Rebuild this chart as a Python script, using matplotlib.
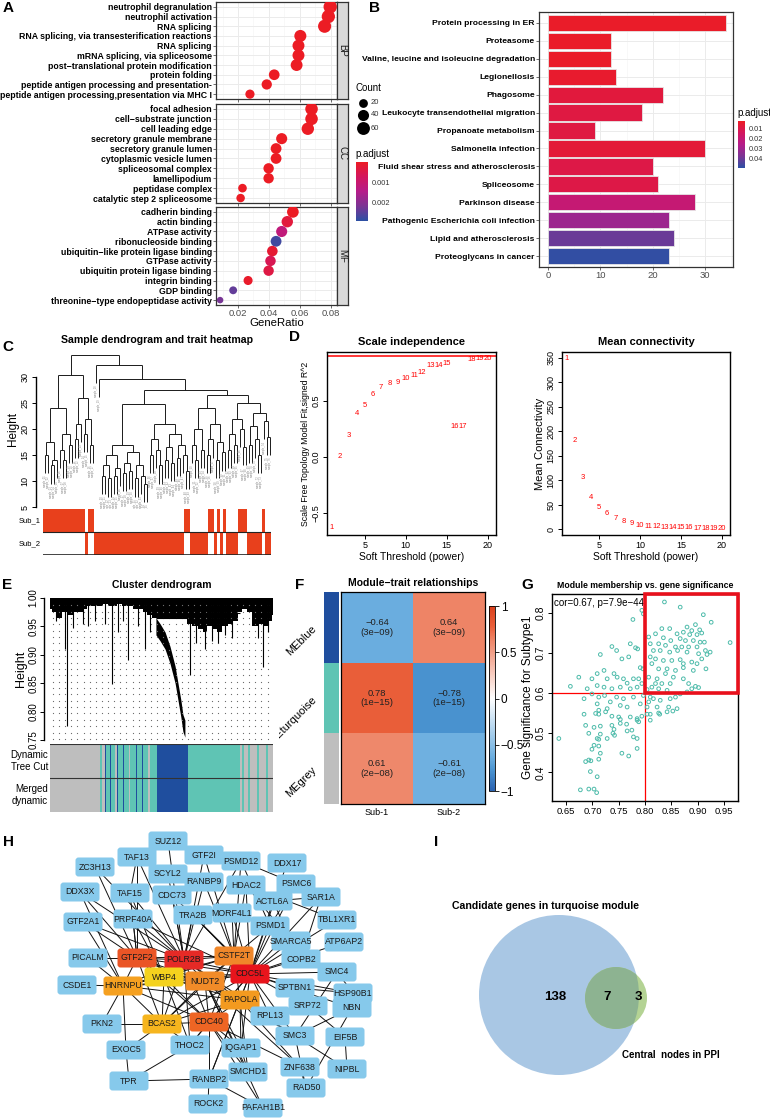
import numpy as np
import matplotlib.pyplot as plt
from matplotlib.colors import LinearSegmentedColormap, ListedColormap, Normalize
from matplotlib.cm import ScalarMappable
from matplotlib.patches import FancyBboxPatch, Circle, Rectangle

plt.rcParams['font.family'] = ['Liberation Sans', 'DejaVu Sans']

# ---------------- data ----------------
# A: GO enrichment (count per term, p.adjust); GeneRatio = count / n_genes
n_genes = 830
bp_terms = ["neutrophil degranulation", "neutrophil activation", "RNA splicing",
            "RNA splicing, via transesterification reactions", "RNA splicing",
            "mRNA splicing, via spliceosome", "post\u2212translational protein modification",
            "protein folding", "peptide antigen processing and presentation-",
            "peptide antigen processing,presentation via MHC I"]
bp_count = [66, 65, 63, 50, 49, 49, 48, 36, 32, 23]
bp_padj = [1e-6, 1e-6, 1e-6, 1e-6, 1e-6, 1e-6, 2e-6, 1e-5, 1e-5, 2e-5]
cc_terms = ["focal adhesion", "cell\u2212substrate junction", "cell leading edge",
            "secretory granule membrane", "secretory granule lumen", "cytoplasmic vesicle lumen",
            "spliceosomal complex", "lamellipodium", "peptidase complex",
            "catalytic step 2 spliceosome"]
cc_count = [56, 56, 54, 40, 37, 37, 33, 33, 19, 18]
cc_padj = [1e-6, 1e-6, 1e-6, 2e-6, 2e-6, 2e-6, 5e-6, 5e-6, 2e-5, 2e-5]
mf_terms = ["cadherin binding", "actin binding", "ATPase activity", "ribonucleoside binding",
            "ubiquitin\u2212like protein ligase binding", "GTPase activity",
            "ubiquitin protein ligase binding", "integrin binding", "GDP binding",
            "threonine\u2212type endopeptidase activity"]
mf_count = [46, 43, 40, 37, 35, 34, 33, 22, 14, 7]
mf_padj = [1e-5, 0.0003, 0.0012, 0.0027, 0.0002, 0.0006, 0.0004, 0.0001, 0.0024, 0.0022]

# B: KEGG
kegg_terms = ["Protein processing in ER", "Proteasome", "Valine, leucine and isoleucine degradation",
              "Legionellosis", "Phagosome", "Leukocyte transendothelial migration",
              "Propanoate metabolism", "Salmonella infection",
              "Fluid shear stress and atherosclerosis", "Spliceosome", "Parkinson disease",
              "Pathogenic Escherichia coli infection", "Lipid and atherosclerosis",
              "Proteoglycans in cancer"]
kegg_count = [34, 12, 12, 13, 22, 18, 9, 30, 20, 21, 28, 23, 24, 23]
kegg_padj = [0.004, 0.004, 0.004, 0.005, 0.008, 0.009, 0.009, 0.007, 0.010, 0.010,
             0.020, 0.031, 0.040, 0.048]

# C: sample tree (merge height, left, right); 0 = a sample
L = 0
tree_a = (30.4,
          (24, (17.5, (15, L, L), (14, (13, L, L), L)), (19, (16, L, (14, L, L)), (17, L, L))),
          (26, (21, (18, L, L), L), (22, (19, L, L), (17, L, L))))
tree_m = (24.8,
          (17, (15, (13, (11, L, L), (10.5, L, L)), (12.5, (11, L, L), L)),
           (15.5, (13.5, (11.5, L, L), (12, L, L)), (13, (10.5, L, L), (11, L, (9.5, L, L))))),
          (21, (18, (15, L, L), (16, L, (13, L, L))),
           (19, (16.5, (14, L, L), (13.5, L, L)), (17, (14.5, L, L), (15, L, (12, L, L))))))
tree_r = (26.5,
          (24, (20, (17, L, (14, L, L)), (16, L, L)),
           (21, (18, (15, L, L), L), (17.5, (14, L, L), (15.5, L, L)))),
          (25, (22, (19, (16, L, L), (17, L, L)), (20, L, (16.5, L, L))),
           (23, (20.5, (17, L, L), (18, L, (15, L, L))), (21.5, L, (18.5, L, L)))))
sample_tree = (34.2, tree_a, (32.3, L, (29.6, L, (27.5, tree_m, tree_r))))
subtype_runs = [(1, 14), (2, 1), (1, 2), (2, 30), (1, 2), (2, 6), (1, 2), (2, 1), (1, 1),
                (2, 1), (1, 1), (2, 4), (1, 3), (2, 5), (1, 1), (2, 2)]

# D: soft threshold
powers = list(range(1, 21))
sft_r2 = [-0.63, 0.0, 0.19, 0.39, 0.46, 0.56, 0.62, 0.66, 0.67, 0.70, 0.73, 0.76, 0.82, 0.82,
          0.84, 0.27, 0.27, 0.87, 0.88, 0.88]
mean_k = [349, 182, 106, 65, 45, 31, 21, 15, 11, 8, 6, 5, 4, 3.5, 3, 2.5, 2.2, 2, 1.8, 1.6]

# E: gene dendrogram outline (gene order in %, height)
fringe_x = [0, 2.2, 4.5, 6.7, 9, 11.2, 13.5, 15.7, 17.9, 20.2, 22.4, 24.7, 26.9, 29.1, 31.4,
            33.6, 35.9, 38.1, 40.4, 42.6, 44.8, 47.1, 49.3, 51.6, 53.8, 56, 58.3, 60.5, 62.8,
            65, 67.3, 69.5, 71.7, 74, 76.2, 78.5, 80.7, 83, 85.2, 87.4, 89.7, 91.9, 94.2,
            96.4, 98.7, 100]
fringe_low = [0.98, 0.975, 0.965, 0.975, 0.97, 0.975, 0.975, 0.98, 0.985, 0.985, 0.985, 0.99,
              0.985, 0.985, 0.99, 0.985, 0.985, 0.98, 0.98, 0.975, 0.97, 0.965, 0.965, 0.965,
              0.965, 0.965, 0.965, 0.965, 0.955, 0.95, 0.945, 0.94, 0.95, 0.945, 0.94, 0.95,
              0.955, 0.96, 0.975, 0.98, 0.975, 0.95, 0.955, 0.95, 0.96, 0.97]
blue_x = [47.5, 49.3, 51.6, 53.8, 56.1, 57.4, 58.7, 59.6, 60.5]
blue_h = [0.965, 0.955, 0.94, 0.915, 0.88, 0.85, 0.82, 0.795, 0.785]
spike_x = [2.7, 6.7, 7.6, 10.3, 14.8, 17.0, 20.2, 24.7, 27.8, 30.5, 32.7, 35.0, 39.5, 42.6,
           44.8, 62.8, 65.5, 69.5, 72.6, 75.3, 78.5, 81.6, 93.3, 95.5, 97.8]
spike_low = [0.96, 0.91, 0.775, 0.948, 0.955, 0.95, 0.96, 0.955, 0.848, 0.94, 0.96, 0.89, 0.95,
             0.91, 0.94, 0.865, 0.92, 0.91, 0.925, 0.92, 0.935, 0.93, 0.93, 0.878, 0.94]
module_runs = ['grey', 'grey', 'turquoise', 'grey', 'blue', 'turquoise', 'blue', 'turquoise',
               'grey', 'blue', 'turquoise', 'blue', 'turquoise', 'grey', 'turquoise', 'blue',
               'turquoise', 'blue', 'turquoise', 'grey', 'turquoise',
               'blue', 'turquoise', 'grey', 'turquoise', 'grey', 'turquoise', 'grey',
               'turquoise', 'grey', 'turquoise', 'grey']
module_len = [47, 3, 2, 3, 1, 4, 1, 4, 2, 1, 5, 1, 5, 1, 6, 1, 5, 1, 5, 2, 7,
              31, 52, 2, 2, 4, 2, 7, 2, 7, 2, 5]

# F: module-trait correlation
me_names = ["MEblue", "MEturquoise", "MEgrey"]
traits = ["Sub-1", "Sub-2"]
me_cor = [[-0.64, 0.64], [0.78, -0.78], [0.61, -0.61]]
me_p = ["3e\u221209", "1e\u221215", "2e\u221208"]

# G: module membership vs gene significance (turquoise genes)
mm = [0.837, 0.867, 0.911, 0.926, 0.896, 0.880, 0.889, 0.904, 0.873, 0.861, 0.885, 0.899, 0.908,
      0.847, 0.832, 0.820, 0.835, 0.849, 0.867, 0.877, 0.892, 0.905, 0.913, 0.962, 0.810, 0.826,
      0.839, 0.858, 0.870, 0.883, 0.899, 0.915, 0.924, 0.807, 0.816, 0.829, 0.847, 0.862, 0.880,
      0.902, 0.918, 0.810, 0.820, 0.835, 0.851, 0.867, 0.873, 0.889, 0.899, 0.908, 0.916, 0.813,
      0.826, 0.842, 0.858, 0.873, 0.892, 0.839, 0.854, 0.807, 0.823, 0.832, 0.848, 0.873, 0.883,
      0.896, 0.813, 0.826, 0.804, 0.842, 0.820,
      0.777, 0.794, 0.797, 0.715, 0.737, 0.746, 0.772, 0.782, 0.786, 0.756, 0.769, 0.791, 0.796,
      0.722, 0.709, 0.741, 0.747, 0.759, 0.778, 0.788, 0.674, 0.699, 0.728, 0.766, 0.658, 0.690,
      0.709, 0.722, 0.737, 0.753, 0.772, 0.785, 0.794,
      0.699, 0.712, 0.723, 0.746, 0.759, 0.778, 0.797, 0.810, 0.816, 0.807, 0.829, 0.848, 0.858,
      0.867, 0.880, 0.889, 0.902, 0.684, 0.709, 0.734, 0.753, 0.766, 0.791, 0.804, 0.823, 0.845,
      0.861, 0.712, 0.728,
      0.684, 0.706, 0.712, 0.725, 0.737, 0.750, 0.753, 0.772, 0.785, 0.794, 0.804, 0.810, 0.826,
      0.828, 0.842, 0.853, 0.687, 0.703, 0.715, 0.737, 0.741, 0.753, 0.765, 0.775, 0.785, 0.788,
      0.810, 0.693, 0.715, 0.728, 0.739, 0.742, 0.766, 0.778, 0.785, 0.636, 0.709, 0.712, 0.703,
      0.712, 0.699, 0.715, 0.712, 0.756, 0.769, 0.785, 0.687, 0.693, 0.697, 0.696, 0.709, 0.677,
      0.693, 0.703, 0.708]
gs = [0.828, 0.815, 0.796, 0.777, 0.771, 0.765, 0.756, 0.758, 0.752, 0.748, 0.746, 0.746, 0.750,
      0.761, 0.761, 0.748, 0.738, 0.731, 0.736, 0.731, 0.731, 0.727, 0.727, 0.726, 0.723, 0.723,
      0.719, 0.715, 0.715, 0.715, 0.715, 0.706, 0.702, 0.740, 0.706, 0.706, 0.702, 0.706, 0.702,
      0.698, 0.696, 0.690, 0.685, 0.681, 0.681, 0.683, 0.673, 0.677, 0.673, 0.685, 0.660, 0.673,
      0.660, 0.660, 0.656, 0.663, 0.656, 0.648, 0.639, 0.639, 0.635, 0.623, 0.623, 0.635, 0.623,
      0.616, 0.614, 0.610, 0.608, 0.606, 0.623,
      0.784, 0.807, 0.798, 0.696, 0.716, 0.706, 0.723, 0.713, 0.710, 0.685, 0.690, 0.663, 0.660,
      0.656, 0.648, 0.648, 0.639, 0.635, 0.635, 0.635, 0.639, 0.635, 0.635, 0.624, 0.616, 0.610,
      0.618, 0.614, 0.610, 0.614, 0.610, 0.614, 0.623,
      0.597, 0.589, 0.593, 0.589, 0.585, 0.589, 0.593, 0.589, 0.585, 0.577, 0.581, 0.585, 0.589,
      0.597, 0.602, 0.610, 0.613, 0.585, 0.572, 0.577, 0.568, 0.564, 0.572, 0.564, 0.564, 0.564,
      0.560, 0.556, 0.560,
      0.546, 0.548, 0.546, 0.552, 0.541, 0.539, 0.533, 0.539, 0.535, 0.541, 0.546, 0.546, 0.549,
      0.546, 0.552, 0.554, 0.518, 0.513, 0.516, 0.518, 0.508, 0.523, 0.521, 0.506, 0.531, 0.527,
      0.531, 0.498, 0.496, 0.485, 0.498, 0.493, 0.504, 0.489, 0.485, 0.485, 0.485, 0.483, 0.468,
      0.466, 0.458, 0.448, 0.433, 0.448, 0.441, 0.460, 0.427, 0.431, 0.429, 0.402, 0.389, 0.356,
      0.358, 0.358, 0.349]

# H: PPI network
hub_colors = {'CDC5L': '#E8141C', 'POLR2B': '#E52A26', 'GTF2F2': '#EA5526', 'CDC40': '#EE6524',
              'CSTF2T': '#F0872A', 'NUDT2': '#F18B28', 'PAPOLA': '#F39A1F', 'HNRNPU': '#F5A020',
              'BCAS2': '#F6B51E', 'WBP4': '#F4D21E'}
node_pos = {
    'SUZ12': (168, 841), 'TAF13': (137, 857), 'GTF2I': (204, 855), 'PSMD12': (241, 861),
    'DDX17': (287, 863), 'ZC3H13': (95, 867), 'SCYL2': (168, 874), 'RANBP9': (204, 882),
    'HDAC2': (246, 885), 'PSMC6': (296, 884), 'DDX3X': (80, 892), 'TAF15': (130, 893),
    'CDC73': (172, 895), 'ACTL6A': (273, 901), 'SAR1A': (321, 897), 'TRA2B': (193, 915),
    'MORF4L1': (232, 913), 'GTF2A1': (83, 922), 'PRPF40A': (133, 919), 'TBL1XR1': (337, 920),
    'PSMD1': (270, 926), 'GTF2F2': (137, 958), 'POLR2B': (184, 960), 'CSTF2T': (234, 956),
    'SMARCA5': (291, 941), 'ATP6AP2': (344, 942), 'PICALM': (88, 958), 'COPB2': (301, 959),
    'CDC5L': (250, 974), 'SMC4': (337, 972), 'WBP4': (164, 977), 'NUDT2': (205, 981),
    'HNRNPU': (123, 986), 'CSDE1': (77, 985), 'SPTBN1': (295, 988), 'HSP90B1': (353, 993),
    'PAPOLA': (240, 1000), 'SRP72': (308, 1006), 'NBN': (352, 1008), 'PKN2': (102, 1024),
    'BCAS2': (162, 1024), 'CDC40': (209, 1022), 'RPL13': (270, 1016), 'EIF5B': (345, 1037),
    'SMC3': (295, 1036), 'EXOC5': (126, 1050), 'THOC2': (190, 1045), 'IQGAP1': (241, 1048),
    'ZNF638': (300, 1067), 'NIPBL': (347, 1069), 'SMCHD1': (248, 1072), 'TPR': (129, 1081),
    'RANBP2': (209, 1079), 'RAD50': (306, 1088), 'ROCK2': (208, 1104), 'PAFAH1B1': (263, 1108)}
hub_links = {
    'CDC5L': ['SMARCA5', 'COPB2', 'SMC4', 'SPTBN1', 'HSP90B1', 'SRP72', 'RPL13', 'PSMD1', 'ACTL6A',
              'TBL1XR1', 'MORF4L1', 'TRA2B', 'HDAC2', 'PSMC6', 'SAR1A', 'ATP6AP2', 'NBN', 'SMC3',
              'PRPF40A', 'RANBP2', 'THOC2', 'IQGAP1', 'DDX17'],
    'POLR2B': ['TAF13', 'TAF15', 'GTF2A1', 'PRPF40A', 'CDC73', 'SUZ12', 'SCYL2', 'TRA2B', 'DDX3X',
               'GTF2I', 'PSMD12', 'RANBP9', 'ZC3H13', 'THOC2', 'RPL13'],
    'GTF2F2': ['GTF2A1', 'TAF13', 'TAF15', 'PRPF40A', 'PICALM', 'ZC3H13', 'DDX3X'],
    'CSTF2T': ['PSMD12', 'HDAC2', 'MORF4L1', 'TRA2B', 'PSMD1', 'CDC73', 'GTF2I', 'RANBP9'],
    'NUDT2': ['RPL13', 'SMC3', 'IQGAP1', 'SMCHD1', 'ZNF638', 'PAFAH1B1'],
    'WBP4': ['PRPF40A', 'TAF15', 'THOC2'],
    'HNRNPU': ['CSDE1', 'PICALM', 'PKN2', 'GTF2A1', 'EXOC5', 'DDX3X'],
    'PAPOLA': ['SMC3', 'IQGAP1', 'RANBP2', 'ZNF638', 'SMCHD1', 'RPL13'],
    'BCAS2': ['PKN2', 'THOC2', 'EXOC5'],
    'CDC40': ['THOC2', 'RANBP2', 'IQGAP1', 'SMCHD1', 'PAFAH1B1', 'ZNF638'],
}
other_links = [('SMC3', 'SMC4'), ('SMC3', 'NIPBL'), ('SMC3', 'RAD50'), ('NBN', 'RAD50'),
               ('NBN', 'SMC3'), ('EIF5B', 'NIPBL'), ('EIF5B', 'SRP72'), ('SRP72', 'RPL13'),
               ('TPR', 'RANBP2'), ('TPR', 'EXOC5'), ('RANBP2', 'ROCK2'), ('RANBP2', 'PAFAH1B1'),
               ('IQGAP1', 'SMCHD1'), ('TAF13', 'TAF15'), ('PSMD12', 'PSMC6'), ('PSMD1', 'PSMC6'),
               ('PSMD12', 'PSMD1'), ('HDAC2', 'SMARCA5'), ('ACTL6A', 'SMARCA5'),
               ('TBL1XR1', 'HDAC2'), ('SAR1A', 'COPB2'), ('SPTBN1', 'HSP90B1'),
               ('ZNF638', 'RAD50'), ('SMC4', 'HSP90B1'), ('THOC2', 'TPR'), ('ACTL6A', 'SAR1A')]

# I: Venn counts
venn_only_module, venn_both, venn_only_ppi = 138, 7, 3

# ---------------- figure ----------------
W, H = 770, 1120
fig = plt.figure(figsize=(7.7, 11.2), dpi=100)


def box(x0, y0, x1, y1):
    return [x0 / W, 1 - y1 / H, (x1 - x0) / W, (y1 - y0) / H]


def r_style(ax):
    for s in ax.spines.values():
        s.set_linewidth(1.0)
    ax.tick_params(direction='out', length=3, width=0.7, labelsize=6.5, pad=1.5)


padj_cmap = LinearSegmentedColormap.from_list(
    'padj', ['#EC1C24', '#D3165E', '#B51C8A', '#7B3494', '#2C50A4'])
grey30 = '#4D4D4D'


def dot_size(c):
    return ((3.2 + 1.25 * np.sqrt(np.asarray(c, float))) * 0.72) ** 2


# ---- A ----
a_norm = Normalize(0, 0.0029)
go_panels = [('BP', bp_terms, bp_count, bp_padj, 2, 99),
             ('CC', cc_terms, cc_count, cc_padj, 104, 203),
             ('MF', mf_terms, mf_count, mf_padj, 207, 305)]
for name, terms, counts, padj, y0, y1 in go_panels:
    ax = fig.add_axes(box(216, y0, 337, y1))
    yy = np.arange(len(terms), 0, -1)
    ratio = np.array(counts) / n_genes
    ax.scatter(ratio, yy, s=dot_size(counts), c=padj, cmap=padj_cmap, norm=a_norm,
               linewidths=0, zorder=3)
    ax.set_xlim(0.0058, 0.0839)
    ax.set_ylim(0.5, 10.5)
    ax.set_yticks(yy)
    ax.set_yticklabels(terms, fontsize=6.3, fontweight='bold')
    ax.set_yticks([], minor=True)
    ax.set_xticks([0.02, 0.04, 0.06, 0.08])
    ax.set_xticks([0.01, 0.03, 0.05, 0.07], minor=True)
    ax.grid(True, which='major', color='#EBEBEB', lw=0.7)
    ax.grid(True, which='minor', axis='x', color='#F3F3F3', lw=0.4)
    ax.set_axisbelow(True)
    ax.tick_params(length=2, width=0.5, color='#333333', pad=1)
    ax.tick_params(which='minor', length=0)
    for s in ax.spines.values():
        s.set_color('#333333')
        s.set_linewidth(0.9)
    if name == 'MF':
        ax.set_xticklabels(['0.02', '0.04', '0.06', '0.08'], fontsize=6.8, color=grey30)
        ax.set_xlabel('GeneRatio', fontsize=8.2, labelpad=0)
    else:
        ax.tick_params(labelbottom=False)
    st = fig.add_axes(box(337, y0, 348, y1))
    st.set_facecolor('#D9D9D9')
    st.set_xticks([])
    st.set_yticks([])
    for s in st.spines.values():
        s.set_color('#333333')
        s.set_linewidth(0.9)
    st.text(0.5, 0.5, name, rotation=-90, ha='center', va='center', fontsize=7,
            color='#1A1A1A', transform=st.transAxes)

cax_a = fig.add_axes(box(356, 162, 368, 221))
cb = fig.colorbar(ScalarMappable(a_norm, padj_cmap), cax=cax_a, ticks=[0.001, 0.002])
cb.outline.set_visible(False)
cax_a.invert_yaxis()
cax_a.tick_params(length=2, color='white', labelsize=5.3, labelcolor='#333333', pad=1)

# ---- B ----
b_norm = Normalize(0.003, 0.049)
axb = fig.add_axes(box(539, 12, 733, 267))
yb = np.arange(len(kegg_terms), 0, -1)
axb.barh(yb, kegg_count, height=0.9, color=padj_cmap(b_norm(kegg_padj)),
         edgecolor='#E6E6E6', lw=0.6, zorder=3)
axb.set_ylim(0.4, len(kegg_terms) + 0.6)
axb.set_xlim(-1.7, 35.3)
axb.set_yticks(yb)
axb.set_yticklabels(kegg_terms, fontsize=6.1, fontweight='bold')
axb.set_xticks([0, 10, 20, 30])
axb.set_xticks([5, 15, 25, 35], minor=True)
axb.set_xticklabels(['0', '10', '20', '30'], fontsize=6.8, color=grey30)
axb.grid(True, which='major', color='#EBEBEB', lw=0.7)
axb.grid(True, which='minor', axis='x', color='#F3F3F3', lw=0.4)
axb.set_axisbelow(True)
axb.tick_params(length=2, width=0.5, color='#333333', pad=1)
axb.tick_params(which='minor', length=0)
for s in axb.spines.values():
    s.set_color('#333333')
    s.set_linewidth(0.9)
cax_b = fig.add_axes(box(738, 121, 745, 168))
cb = fig.colorbar(ScalarMappable(b_norm, padj_cmap), cax=cax_b, ticks=[0.01, 0.02, 0.03, 0.04])
cb.outline.set_visible(False)
cax_b.invert_yaxis()
cax_b.tick_params(length=2, color='white', labelsize=5.3, labelcolor='#333333', pad=1)

# ---- C ----
axc = fig.add_axes(box(43, 351, 271, 507))
segs, leaves = [], []
hang = 3.5


def draw_node(node, counter):
    if not isinstance(node, tuple):
        x = counter[0]
        counter[0] += 1
        return x, None
    h, a, b = node
    xa, ha = draw_node(a, counter)
    xb, hb = draw_node(b, counter)
    for xc, hc in ((xa, ha), (xb, hb)):
        if hc is None:
            segs.append(((xc, xc), (h, h - hang)))
            leaves.append((xc, h - hang))
        else:
            segs.append(((xc, xc), (h, hc)))
    segs.append(((xa, xb), (h, h)))
    return (xa + xb) / 2, h


draw_node(sample_tree, [0])
for xs, ys in segs:
    axc.plot(xs, ys, color='#1A1A1A', lw=0.7, solid_capstyle='butt')
for i, (xl, yl) in enumerate(sorted(leaves)):
    axc.text(xl, yl - 0.3, f"sample_{i + 1:02d}", rotation=90, ha='center', va='top',
             fontsize=1.9, color='#8C8C8C')
n_samples = sum(n for _, n in subtype_runs)
axc.set_xlim(-0.5, n_samples - 0.5)
axc.set_ylim(5, 35)
for s in ['top', 'right', 'bottom']:
    axc.spines[s].set_visible(False)
axc.spines['left'].set_position(('outward', 5))
axc.spines['left'].set_bounds(5, 30)
axc.set_xticks([])
axc.set_yticks([5, 10, 15, 20, 25, 30])
r_style(axc)
axc.tick_params(axis='y', labelrotation=90)
for t in axc.get_yticklabels():
    t.set_va('center')
axc.set_ylabel('Height', fontsize=8.5, labelpad=1)
axc.set_title('Sample dendrogram and trait heatmap', fontsize=7.6, fontweight='bold', pad=6)

subtypes = np.concatenate([[s] * n for s, n in subtype_runs])
trait_mat = np.vstack([subtypes == 1, subtypes == 2]).astype(int)
axh = fig.add_axes(box(43, 509, 271, 555))
axh.imshow(trait_mat, aspect='auto', cmap=ListedColormap(['white', '#E8401C']),
           interpolation='nearest', extent=(-0.5, n_samples - 0.5, 2, 0))
axh.axhline(1, color='#222222', lw=0.8)
axh.axhline(2, color='#222222', lw=1.2)
axh.set_ylim(2, 0)
axh.axis('off')
for i, lab in enumerate(['Sub_1', 'Sub_2']):
    axh.text(-1.2, i + 0.5, lab, ha='right', va='center', fontsize=5.5)

# ---- D ----
axd1 = fig.add_axes(box(327, 352, 496, 535))
for p, r in zip(powers, sft_r2):
    axd1.text(p, r, str(p), color='red', fontsize=5.5, ha='center', va='center')
axd1.axhline(0.9, color='red', lw=1.1)
axd1.set_xlim(0.4, 21.0)
axd1.set_ylim(-0.70, 0.94)
axd1.set_xticks([5, 10, 15, 20])
axd1.set_yticks([-0.5, 0.0, 0.5])
axd1.set_yticklabels(['\u22120.5', '0.0', '0.5'])
r_style(axd1)
axd1.tick_params(axis='y', labelrotation=90)
for t in axd1.get_yticklabels():
    t.set_va('center')
axd1.set_xlabel('Soft Threshold (power)', fontsize=7.5, labelpad=1)
axd1.set_ylabel('Scale Free Topology Model Fit,signed R^2', fontsize=6.3, labelpad=1)
axd1.set_title('Scale independence', fontsize=8, fontweight='bold', pad=5)

axd2 = fig.add_axes(box(562, 352, 730, 535))
for p, k in zip(powers, mean_k):
    axd2.text(p, k, str(p), color='red', fontsize=5.5, ha='center', va='center')
axd2.set_xlim(0.5, 21.0)
axd2.set_ylim(-12, 362)
axd2.set_xticks([5, 10, 15, 20])
axd2.set_yticks([0, 50, 100, 150, 200, 250, 300, 350])
r_style(axd2)
axd2.tick_params(axis='y', labelrotation=90)
for t in axd2.get_yticklabels():
    t.set_va('center')
axd2.set_xlabel('Soft Threshold (power)', fontsize=7.5, labelpad=1)
axd2.set_ylabel('Mean Connectivity', fontsize=8, labelpad=1)
axd2.set_title('Mean connectivity', fontsize=8, fontweight='bold', pad=5)

# ---- E ----
axe = fig.add_axes(box(50, 594, 273, 744))
gx, gy = np.meshgrid(np.arange(1.3, 100, 2.75), np.arange(0.752, 0.995, 0.0112))
axe.plot(gx.ravel(), gy.ravel(), ls='none', marker='s', ms=0.8, mew=0, color='#6E6E6E')
axe.fill_between(fringe_x, fringe_low, 1.0, step='mid', color='black', lw=0)
axe.fill_between(blue_x, np.array(blue_h) - 0.03, blue_h, color='black', lw=0)
axe.vlines(spike_x, spike_low, 1.0, color='black', lw=0.8)
axe.hlines([0.965, 0.973], [47.5, 62.8], [61.9, 85.2], color='black', lw=0.8)
axe.set_xlim(0, 100)
axe.set_ylim(0.743, 1.007)
for s in ['top', 'right', 'bottom']:
    axe.spines[s].set_visible(False)
axe.spines['left'].set_position(('outward', 4))
axe.spines['left'].set_bounds(0.75, 1.0)
axe.set_xticks([])
axe.set_yticks([0.75, 0.80, 0.85, 0.90, 0.95, 1.00])
axe.set_yticklabels(['0.75', '0.80', '0.85', '0.90', '0.95', '1.00'])
r_style(axe)
axe.tick_params(axis='y', labelrotation=90, labelsize=7)
for t in axe.get_yticklabels():
    t.set_va('center')
axe.set_ylabel('Height', fontsize=9, labelpad=1)
axe.set_title('Cluster dendrogram', fontsize=7.5, fontweight='bold', pad=4)

mod_color = {'grey': '#BEBEBE', 'turquoise': '#5FC4B4', 'blue': '#1F4E9E'}
axm = fig.add_axes(box(50, 744, 273, 812))
lefts = np.concatenate([[0], np.cumsum(module_len)[:-1]])
for row in (0.5, 1.5):
    axm.barh(row, module_len, left=lefts, height=1.0,
             color=[mod_color[m] for m in module_runs], lw=0)
axm.axhline(1, color='#333333', lw=0.8)
axm.axhline(0, color='#333333', lw=0.8)
axm.set_xlim(0, sum(module_len))
axm.set_ylim(2, 0)
axm.axis('off')
axm.text(-2, 0.5, 'Dynamic\nTree Cut', ha='right', va='center', fontsize=7, linespacing=1.3)
axm.text(-2, 1.5, 'Merged\ndynamic', ha='right', va='center', fontsize=7, linespacing=1.3)

# ---- F ----
trait_cmap = LinearSegmentedColormap.from_list(
    'bwr', [(0, '#2A62B0'), (0.11, '#4A93D0'), (0.18, '#6AADDF'), (0.5, '#FFFFFF'),
            (0.82, '#EE8466'), (0.89, '#EA5F3A'), (1, '#D9401C')])
axf = fig.add_axes(box(341, 592, 485, 804))
axf.imshow(np.array(me_cor), cmap=trait_cmap, vmin=-1, vmax=1, aspect='auto')
for i in range(len(me_names)):
    for j in range(len(traits)):
        axf.text(j, i, f"{me_cor[i][j]:.2f}\n({me_p[i]})".replace('-', '\u2212'),
                 ha='center', va='center', fontsize=6.8, color='#222222', linespacing=1.1)
axf.set_xticks(range(len(traits)))
axf.set_xticklabels(traits, fontsize=6.5)
axf.set_yticks([])
axf.tick_params(length=0, pad=3)
for s in axf.spines.values():
    s.set_linewidth(0.9)
axf.set_title('Module\u2212trait relationships', fontsize=7.5, fontweight='bold', pad=4)
axfc = fig.add_axes(box(324, 592, 339, 804))
label_clip = Rectangle((279 / W, 0), 1, 1, transform=fig.transFigure)
for i, m in enumerate(me_names):
    axfc.add_patch(Rectangle((0, i), 1, 1, color=mod_color[m[2:]], lw=0))
    t = axfc.text(-0.6, i + 0.5, m, rotation=45, ha='right', va='center', fontsize=8,
                  rotation_mode='anchor', clip_on=True)
    t.set_clip_path(label_clip)
axfc.set_xlim(0, 1)
axfc.set_ylim(3, 0)
axfc.axis('off')
cax_f = fig.add_axes(box(489, 606, 495, 791))
cb = fig.colorbar(ScalarMappable(Normalize(-1, 1), trait_cmap), cax=cax_f,
                  ticks=[-1, -0.5, 0, 0.5, 1])
cb.ax.set_yticklabels(['\u22121', '\u22120.5', '0', '0.5', '1'])
cb.outline.set_linewidth(0.6)
cax_f.tick_params(labelsize=8.5, length=3, width=0.6, pad=1)

# ---- G ----
axg = fig.add_axes(box(552, 594, 738, 801))
axg.scatter(mm, gs, s=7, facecolors='none', edgecolors='#4DBBAA', linewidths=0.7, zorder=3)
axg.set_xlim(0.623, 0.977)
axg.set_ylim(0.328, 0.848)
axg.axvline(0.8, color='red', lw=0.9)
axg.axhline(0.6, color='red', lw=0.9)
axg.add_patch(Rectangle((0.8, 0.6), 0.977 - 0.8, 0.848 - 0.6, fill=False, edgecolor='#E8101C',
                        lw=2.6, zorder=4, clip_on=False))
axg.text(0.627, 0.838, 'cor=0.67, p=7.9e\u221244', fontsize=7, ha='left', va='top')
axg.set_xticks([0.65, 0.70, 0.75, 0.80, 0.85, 0.90, 0.95])
axg.set_xticklabels(['0.65', '0.70', '0.75', '0.80', '0.85', '0.90', '0.95'])
axg.set_yticks([0.4, 0.5, 0.6, 0.7, 0.8])
r_style(axg)
axg.tick_params(axis='y', labelrotation=90, labelsize=7.5)
axg.tick_params(axis='x', labelsize=6.8)
for t in axg.get_yticklabels():
    t.set_va('center')
axg.set_ylabel('Gene significance for Subtype1', fontsize=8.5, labelpad=1)
axg.set_title('Module membership vs. gene significance', fontsize=6.3, fontweight='bold', pad=4)

# ---- overlay: legends, network, venn, panel letters ----
ov = fig.add_axes([0, 0, 1, 1])
ov.set_xlim(0, W)
ov.set_ylim(H, 0)
ov.axis('off')

ov.text(355, 88, 'Count', fontsize=7, va='center', ha='left')
for yv, c in zip([103, 115, 128], [20, 40, 60]):
    ov.scatter(363, yv, s=dot_size(c), color='black', linewidths=0)
    ov.text(371, yv, str(c), fontsize=5.5, va='center', ha='left', color='#333333')
ov.text(355, 154, 'p.adjust', fontsize=7, va='center', ha='left')
ov.text(737, 113, 'p.adjust', fontsize=7, va='center', ha='left')

# network edges
edges = [(h, t) for h, ts in hub_links.items() for t in ts]
hubs = list(hub_colors)
edges += [(hubs[i], hubs[j]) for i in range(len(hubs)) for j in range(i + 1, len(hubs))]
edges += other_links
for a, b in edges:
    (x0, y0), (x1, y1) = node_pos[a], node_pos[b]
    ov.plot([x0, x1], [y0, y1], color='#111111', lw=0.7, zorder=2)
for name, (x, y) in node_pos.items():
    ov.add_patch(FancyBboxPatch((x - 17.5, y - 7.5), 35, 15,
                                boxstyle='round,pad=2,rounding_size=3',
                                facecolor=hub_colors.get(name, '#86C9EB'), edgecolor='none',
                                zorder=3))
    ov.text(x, y, name, ha='center', va='center', fontsize=6.3, color='#1A1A1A', zorder=4)

# venn
big = Circle((559, 995), 80, facecolor='#A9C7E4', edgecolor='none', zorder=2)
small = Circle((616, 998), 31, facecolor='#B4D394', edgecolor='none', zorder=3)
ov.add_patch(big)
ov.add_patch(small)
inter = Circle((616, 998), 31, facecolor='#8DB391', edgecolor='none', zorder=4)
ov.add_patch(inter)
inter.set_clip_path(big)
ov.text(555, 997, str(venn_only_module), fontsize=9.5, fontweight='bold', ha='center',
        va='center', zorder=5)
ov.text(607, 997, str(venn_both), fontsize=9.5, fontweight='bold', ha='center', va='center',
        zorder=5)
ov.text(638, 997, str(venn_only_ppi), fontsize=9.5, fontweight='bold', ha='center',
        va='center', zorder=5)
ov.text(546, 906, 'Candidate genes in turquoise module', fontsize=7.6, fontweight='bold',
        ha='center', va='center')
ov.text(671, 1055, 'Central  nodes in PPI', fontsize=7, fontweight='bold', ha='center',
        va='center')

for lab, x, y in [('A', 8, 8), ('B', 375, 8), ('C', 8, 347), ('D', 295, 337), ('E', 7, 585),
                  ('F', 300, 585), ('G', 527, 585), ('H', 8, 842), ('I', 436, 842)]:
    ov.text(x, y, lab, fontsize=11, fontweight='bold', ha='center', va='center')

fig.savefig('out.png', dpi=100)
